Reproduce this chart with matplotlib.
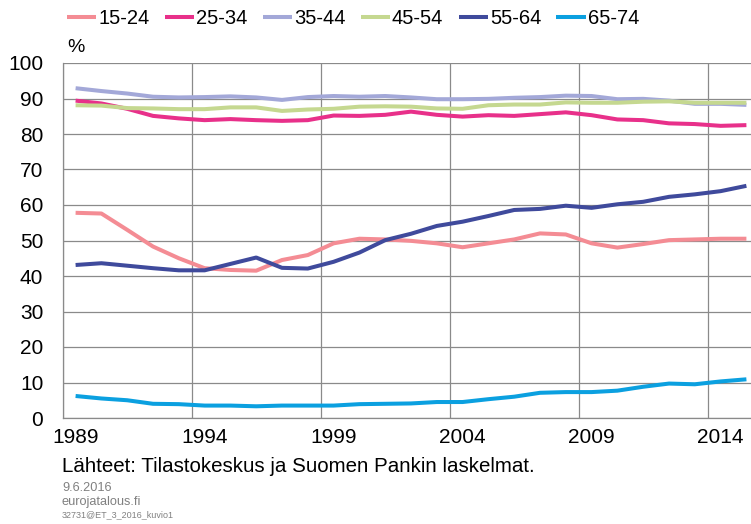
import matplotlib
matplotlib.use("Agg")
import matplotlib.pyplot as plt

plt.rcParams['font.family'] = ['Liberation Sans', 'DejaVu Sans']

# Employment rate by age group, %
years = list(range(1989, 2016))

age_15_24 = [57.8, 57.6, 53.0, 48.3, 45.0, 42.2, 41.7, 41.5, 44.5, 45.9,
             49.2, 50.5, 50.3, 49.9, 49.2, 48.1, 49.2, 50.3, 52.0, 51.7,
             49.2, 48.0, 49.0, 50.1, 50.3, 50.5, 50.5]
age_25_34 = [89.4, 88.6, 87.1, 85.1, 84.4, 83.9, 84.2, 83.9, 83.7, 83.9,
             85.2, 85.1, 85.4, 86.3, 85.4, 84.9, 85.3, 85.1, 85.6, 86.1,
             85.3, 84.1, 83.9, 83.0, 82.8, 82.3, 82.5]
age_35_44 = [92.9, 92.1, 91.4, 90.5, 90.3, 90.4, 90.6, 90.3, 89.6, 90.4,
             90.7, 90.5, 90.7, 90.3, 89.8, 89.8, 89.9, 90.2, 90.4, 90.8,
             90.7, 89.8, 89.9, 89.4, 88.5, 88.5, 88.2]
age_45_54 = [88.1, 88.0, 87.3, 87.2, 87.0, 87.0, 87.5, 87.5, 86.5, 86.9,
             87.1, 87.7, 87.8, 87.7, 87.2, 87.1, 88.1, 88.3, 88.3, 88.9,
             88.8, 88.8, 89.1, 89.2, 88.8, 88.8, 88.8]
age_55_64 = [43.1, 43.6, 42.9, 42.2, 41.6, 41.6, 43.4, 45.2, 42.3, 42.1,
             44.0, 46.6, 50.1, 51.9, 54.1, 55.3, 56.9, 58.6, 58.9, 59.8,
             59.2, 60.2, 60.9, 62.3, 63.0, 63.9, 65.4]
age_65_74 = [6.2, 5.5, 5.0, 4.0, 3.9, 3.5, 3.5, 3.3, 3.5, 3.5,
             3.5, 3.9, 4.0, 4.1, 4.5, 4.5, 5.3, 6.0, 7.1, 7.3,
             7.3, 7.7, 8.8, 9.7, 9.5, 10.3, 10.9]

series_labels = ['15-24', '25-34', '35-44', '45-54', '55-64', '65-74']
series_values = [age_15_24, age_25_34, age_35_44, age_45_54, age_55_64, age_65_74]
series_colors = ['#F48C94', '#E8308A', '#A3A8D8', '#C5D890', '#3F4A9C', '#0BA0E0']

x_tick_years = [1989, 1994, 1999, 2004, 2009, 2014]
y_ticks = list(range(0, 101, 10))

fig = plt.figure(figsize=(7.51, 5.24), dpi=100)
W, H = 751, 524
left_px, right_px, top_px, bottom_px = 62.7, 751, 63, 418
ax = fig.add_axes([left_px / W, 1 - bottom_px / H,
                   (right_px - left_px) / W, (bottom_px - top_px) / H])

grid_color = '#8A8A8A'
for label, vals, color in zip(series_labels, series_values, series_colors):
    ax.plot(years, vals, color=color, lw=2.9, label=label,
            solid_joinstyle='round', solid_capstyle='butt', zorder=3)

ax.set_ylim(0, 100)
ax.set_yticks(y_ticks)
ax.set_xlim(1988.5, 1988.5 + (right_px - left_px) / 25.8)
ax.set_xticks(x_tick_years)
ax.set_xticks([y - 0.5 for y in x_tick_years], minor=True)

ax.grid(axis='y', which='major', color=grid_color, lw=0.9, zorder=1)
ax.grid(axis='x', which='minor', color=grid_color, lw=0.9, zorder=1)
ax.grid(axis='x', which='major', visible=False)

for side in ['top', 'right']:
    ax.spines[side].set_visible(False)
for side in ['left', 'bottom']:
    ax.spines[side].set_color(grid_color)
    ax.spines[side].set_linewidth(0.9)

ax.tick_params(axis='both', which='both', length=0, labelsize=15, colors='black')
ax.tick_params(axis='y', pad=14)
ax.tick_params(axis='x', pad=7)

fig.text(67 / W, 1 - 47 / H, '%', fontsize=14, ha='left', va='center')

fig.legend(loc='center left', bbox_to_anchor=(67 / W, 1 - 19 / H), ncol=6,
           frameon=False, fontsize=14.5, handlelength=1.45, handletextpad=0.1,
           columnspacing=0.76, borderpad=0, borderaxespad=0)

fig.text(62 / W, 1 - 466 / H, 'Lähteet: Tilastokeskus ja Suomen Pankin laskelmat.',
         fontsize=14.8, ha='left', va='center')
fig.text(62 / W, 1 - 488 / H, '9.6.2016', fontsize=9.2, color='#808080',
         ha='left', va='center')
fig.text(62 / W, 1 - 502 / H, 'eurojatalous.fi', fontsize=9.2, color='#808080',
         ha='left', va='center')
fig.text(62 / W, 1 - 515 / H, '32731@ET_3_2016_kuvio1', fontsize=6.5, color='#808080',
         ha='left', va='center')

fig.savefig('out.png', dpi=100)
